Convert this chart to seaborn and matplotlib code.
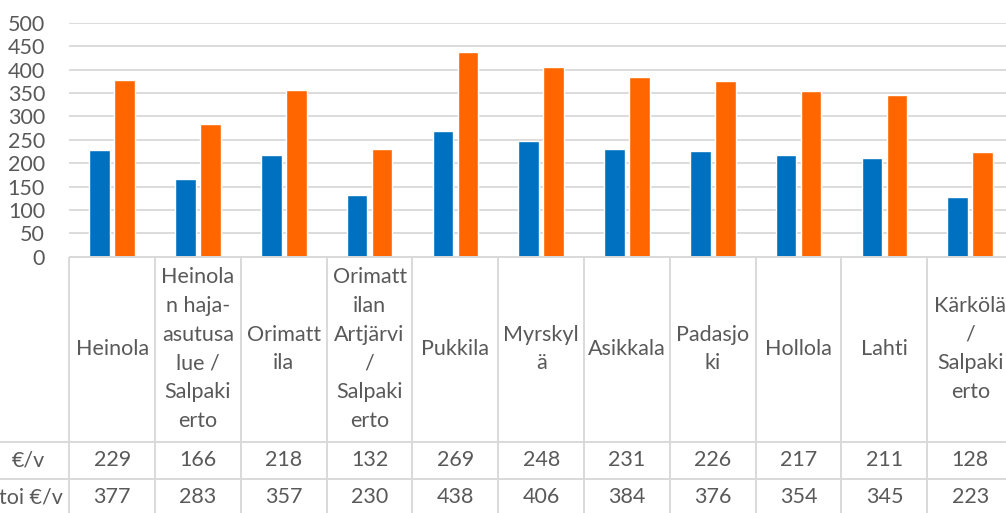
import matplotlib
matplotlib.use("Agg")
import matplotlib.pyplot as plt
import seaborn as sns
import pandas as pd
import numpy as np

categories = ["Heinola", "Heinola\nn haja-\nasutusa\nlue /\nSalpaki\nerto", "Orimatt\nila",
              "Orimatt\nilan\nArtjärvi\n/\nSalpaki\nerto", "Pukkila", "Myrskyl\nä", "Asikkala",
              "Padasjo\nki", "Hollola", "Lahti", "Kärkölä\n/\nSalpaki\nerto"]
series_names = ["€/v", "toi €/v"]
values_1 = [229, 166, 218, 132, 269, 248, 231, 226, 217, 211, 128]
values_2 = [377, 283, 357, 230, 438, 406, 384, 376, 354, 345, 223]
yticks = [0, 50, 100, 150, 200, 250, 300, 350, 400, 450, 500]
colors = ["#0070C0", "#FF6600"]

sns.set_theme(style="white")
plt.rcParams['font.family'] = ['Lato', 'DejaVu Sans']
TXT = "#595959"
GRID = "#D9D9D9"
FS = 15.5

W, H = 1006, 513
fig = plt.figure(figsize=(W / 100, H / 100), dpi=100)
left_px, col_px = 69.3, 85.8
x_lo = -0.5 - left_px / col_px
x_hi = -0.5 + (W - left_px) / col_px
y0_px, ytop_px = 256.7, 23.0

df = pd.DataFrame({
    "cat": categories * 2,
    "series": [series_names[0]] * len(categories) + [series_names[1]] * len(categories),
    "value": values_1 + values_2,
})

ax = fig.add_axes([left_px / W, (H - y0_px) / H, (W - left_px) / W, (y0_px - ytop_px) / H])
sns.barplot(data=df, x="cat", y="value", hue="series", order=categories,
            hue_order=series_names, palette=colors, width=0.58, gap=0.17,
            saturation=1, legend=False, ax=ax, zorder=3)
ax.set_xlim(-0.5, x_hi)
ax.set_ylim(0, 500)
ax.set_yticks(yticks)
ax.set_yticklabels([str(v) for v in yticks], color=TXT, fontsize=FS)
ax.tick_params(axis="y", length=0, pad=17.5)
ax.set_xticks([])
ax.set_xlabel("")
ax.set_ylabel("")
ax.grid(axis="y", color=GRID, linewidth=1.3, zorder=0)
for s in ax.spines.values():
    s.set_visible(False)

tax = fig.add_axes([0, 0, 1, (H - y0_px) / H])
tax.set_xlim(x_lo, x_hi)
tax.set_ylim(H, y0_px)
tax.axis("off")
lw = 1.4
tax.hlines(y0_px, -0.5, x_hi, color=GRID, linewidth=lw, clip_on=False)
tax.hlines([441.7, 479.0], x_lo, x_hi, color=GRID, linewidth=lw, clip_on=False)
tax.vlines([i - 0.5 for i in range(len(categories) + 1)], y0_px, H, color=GRID,
           linewidth=lw, clip_on=False)
for i, c in enumerate(categories):
    tax.text(i, 349, c, ha="center", va="center", color=TXT, fontsize=FS, linespacing=1.54)
    tax.text(i, 460.5, str(values_1[i]), ha="center", va="center", color=TXT, fontsize=FS)
    tax.text(i, 497, str(values_2[i]), ha="center", va="center", color=TXT, fontsize=FS)
tax.text(x_lo + 45 / col_px, 460.5, series_names[0], ha="right", va="center", color=TXT, fontsize=FS)
tax.text(x_lo + 63 / col_px, 497, series_names[1], ha="right", va="center", color=TXT, fontsize=FS)

fig.savefig("out.png", dpi=100)
